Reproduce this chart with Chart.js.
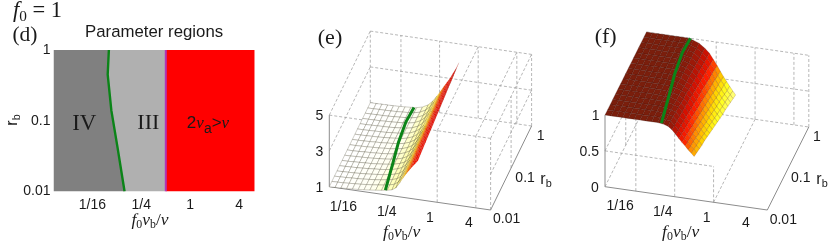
<!DOCTYPE html>
<html><head><meta charset="utf-8">
<script src="https://cdn.jsdelivr.net/npm/chart.js@4"></script>
<style>
html,body{margin:0;padding:0;background:#fff;width:830px;height:241px;overflow:hidden}
#page{position:absolute;left:0;top:0;width:830px;height:241px;filter:blur(.45px)}
canvas{position:absolute;top:0}
.t{position:absolute;transform:translate(-50%,-50%);white-space:nowrap;color:#1a1a1a;font-family:"Liberation Sans",sans-serif;font-size:14px;line-height:1}
.s{font-family:"Liberation Serif",serif}
sub{font-size:.68em;vertical-align:-.25em;line-height:0}
</style></head><body><div id="page">
<canvas id="cd" width="270" height="241" style="left:0;width:270px;height:241px"></canvas>
<canvas id="ce" width="280" height="241" style="left:270px;width:280px;height:241px"></canvas>
<canvas id="cf" width="280" height="241" style="left:550px;width:280px;height:241px"></canvas>
</div>
<script>
const xTickValues=[0.0625,0.25,1,4];
const xTickLabels=["1/16","1/4","1","4"];
const rbTickValues=[0.01,0.1,1];
const rbTickLabels=["0.01","0.1","1"];
const eZTicks=[1,3,5];
const fZTicks=[0,0.5,1];
const fZTickLabels=["0","0.5","1"];
const xMin=0.0208, xMaxD=6.2, xMax3D=6.8;
const greenRb=[0.01,0.043,0.14,0.45,1];
const greenX=[0.1556,0.127,0.107,0.0965,0.0998];
const eGreenZ=[1.26,1.2,1.15,1.09,1.08];
const fGreenZ=[1,1,1,1,1];
const magentaX=0.5;
const surfaceX=[0.0208,0.0257,0.0316,0.0389,0.0479,0.0589,0.0725,0.0893,0.11,0.1354,0.1667,0.1968,0.2263,0.26,0.2902,0.3249,0.3627,0.4043,0.4524,0.5];
const surfaceRb=[0.01,0.0133,0.0178,0.0237,0.0316,0.0422,0.0562,0.075,0.1,0.1334,0.1778,0.2371,0.3162,0.4217,0.5623,0.7499,1];
const eZ=[
[1,1.01,1.02,1.04,1.06,1.08,1.11,1.14,1.18,1.22,1.27,1.33,1.47,1.78,2.05,2.32,2.55,2.77,2.97,3.17],
[1,1.01,1.02,1.04,1.06,1.08,1.11,1.14,1.18,1.22,1.28,1.35,1.5,1.81,2.08,2.35,2.58,2.8,3.01,3.22],
[1,1.01,1.02,1.04,1.05,1.07,1.1,1.13,1.17,1.22,1.28,1.36,1.52,1.84,2.1,2.37,2.61,2.84,3.05,3.27],
[1,1.01,1.02,1.03,1.05,1.07,1.1,1.13,1.17,1.21,1.29,1.38,1.55,1.86,2.13,2.4,2.63,2.87,3.09,3.32],
[1,1.01,1.02,1.03,1.05,1.07,1.1,1.12,1.16,1.21,1.29,1.4,1.58,1.89,2.16,2.42,2.66,2.9,3.13,3.37],
[1,1,1.02,1.03,1.05,1.06,1.09,1.12,1.16,1.21,1.3,1.41,1.6,1.92,2.19,2.45,2.69,2.93,3.17,3.41],
[1,1,1.02,1.03,1.04,1.06,1.09,1.11,1.15,1.21,1.3,1.43,1.63,1.94,2.21,2.48,2.72,2.97,3.2,3.46],
[1,1,1.01,1.03,1.04,1.06,1.08,1.11,1.15,1.2,1.31,1.45,1.66,1.97,2.24,2.5,2.75,3.0,3.24,3.51],
[1,1,1.01,1.02,1.04,1.05,1.08,1.1,1.14,1.2,1.31,1.46,1.68,2.0,2.27,2.53,2.77,3.03,3.28,3.56],
[1,1,1.01,1.02,1.04,1.05,1.08,1.1,1.14,1.2,1.32,1.48,1.71,2.03,2.29,2.55,2.8,3.06,3.32,3.61],
[1,1,1.01,1.02,1.03,1.05,1.07,1.1,1.13,1.2,1.32,1.5,1.74,2.05,2.32,2.58,2.83,3.1,3.36,3.66],
[1,1,1.01,1.02,1.03,1.04,1.07,1.09,1.13,1.19,1.33,1.51,1.76,2.08,2.35,2.61,2.86,3.13,3.4,3.71],
[1,1,1.01,1.02,1.03,1.04,1.06,1.09,1.12,1.19,1.33,1.53,1.79,2.11,2.37,2.63,2.89,3.16,3.44,3.76],
[1,1,1.01,1.01,1.03,1.04,1.06,1.08,1.12,1.19,1.34,1.55,1.82,2.14,2.4,2.66,2.92,3.19,3.48,3.8],
[1,1,1.01,1.01,1.02,1.04,1.06,1.08,1.11,1.19,1.34,1.56,1.84,2.16,2.43,2.69,2.94,3.23,3.52,3.85],
[1,1,1.01,1.01,1.02,1.03,1.05,1.07,1.11,1.18,1.35,1.58,1.87,2.19,2.45,2.71,2.97,3.26,3.56,3.9],
[1,1,1.01,1.01,1.02,1.03,1.05,1.07,1.1,1.18,1.35,1.6,1.9,2.22,2.48,2.74,3.0,3.3,3.6,3.95]];
const fZ=[
[1,1,1,1,1,1,1,1,1,1,.99,.97,.93,.87,.82,.77,.73,.68,.64,.6],
[1,1,1,1,1,1,1,1,1,1,.98,.97,.92,.86,.81,.76,.71,.66,.62,.58],
[1,1,1,1,1,1,1,1,1,.99,.98,.96,.91,.85,.79,.74,.7,.65,.6,.56],
[1,1,1,1,1,1,1,1,1,.99,.97,.95,.9,.84,.78,.73,.68,.63,.59,.54],
[1,1,1,1,1,1,1,1,1,.99,.97,.95,.89,.82,.77,.71,.67,.61,.57,.53],
[1,1,1,1,1,1,1,1,.99,.99,.96,.93,.88,.81,.75,.7,.65,.6,.55,.51],
[1,1,1,1,1,1,1,1,.99,.98,.96,.92,.87,.8,.74,.68,.63,.58,.53,.49],
[1,1,1,1,1,1,1,1,.99,.98,.95,.92,.86,.79,.72,.67,.62,.56,.52,.47],
[1,1,1,1,1,1,1,1,.99,.98,.94,.9,.84,.77,.71,.65,.6,.55,.5,.45],
[1,1,1,1,1,1,1,1,.99,.97,.93,.89,.83,.76,.7,.64,.58,.53,.48,.43],
[1,1,1,1,1,1,1,1,.99,.97,.93,.88,.82,.75,.68,.62,.57,.51,.46,.41],
[1,1,1,1,1,1,1,1,.99,.97,.92,.87,.81,.74,.67,.61,.55,.49,.44,.39],
[1,1,1,1,1,1,1,1,.99,.96,.92,.86,.8,.72,.65,.59,.53,.48,.42,.38],
[1,1,1,1,1,1,1,1,.98,.96,.91,.86,.79,.71,.64,.57,.52,.46,.41,.36],
[1,1,1,1,1,1,1,1,.98,.96,.9,.85,.78,.7,.63,.56,.5,.44,.39,.34],
[1,1,1,1,1,1,1,1,.98,.95,.9,.84,.76,.69,.61,.55,.49,.42,.37,.32],
[1,1,1,1,1,1,1,1,.98,.95,.89,.83,.75,.67,.6,.53,.47,.41,.35,.3]];
const xA=xMin,xB=xMax3D;
const eSolid=[[xA,.01,1,xA,.01,5],[xA,.01,1,xB,.01,1],[xB,.01,1,xB,1,1]];
const eDashed=[[xA,.01,5,xA,1,5],[xA,1,5,xB,1,5],[xB,.01,5,xB,1,5],[xB,1,1,xB,1,5],[xB,.01,1,xB,.01,5],[xA,.01,5,xB,.01,5],
[xA,.01,3,xA,1,3],[xA,1,3,xB,1,3],[xA,1,1,xB,1,1],[xA,1,1,xA,1,5],[xB,.01,3,xB,1,3],[xB,.1,1,xB,.1,5],
[.0625,1,1,.0625,1,5],[.25,1,1,.25,1,5],[1,1,1,1,1,5],[4,1,1,4,1,5],[1,.01,1,1,.01,5],[4,.01,1,4,.01,5],[1,.01,5,1,1,5],[4,.01,5,4,1,5]];
const fSolid=[[xA,.01,0,xA,.01,1],[xA,.01,0,xB,.01,0],[xB,.01,0,xB,1,0]];
const fDashed=[[xA,.01,.5,1,.01,.5],[.0625,.01,0,.0625,.01,1],[.25,.01,0,.25,.01,1],[1,.01,0,1,.01,.5],
[xA,.01,.5,xA,1,.5],[xA,.1,0,xA,.1,1],[xA,.01,0,xA,1,0],[1,.01,0,1,1,0],
[xA,1,1,xB,1,1],[xA,1,.5,xB,1,.5],[xA,1,0,xB,1,0],[.25,1,0,.25,1,1],[1,1,0,1,1,1],[4,1,0,4,1,1],[xB,1,0,xB,1,1]];
const eColors=[[1,255,255,255],[1.15,255,255,240],[1.3,255,255,190],[1.9,255,240,110],[2.15,255,215,30],[2.35,255,150,0],[2.6,255,60,0],[2.9,250,15,0],[4,235,0,0],[5,150,10,0]];
const fColors=[[.3,255,255,140],[.45,255,255,30],[.55,255,215,0],[.65,255,140,0],[.75,255,30,0],[.85,214,16,0],[.93,160,24,8],[1,122,30,12]];
const eEdge=v=>v<1.9?"rgba(50,45,20,.6)":"rgba(110,40,0,.22)";
const fEdge=v=>v>.8?"rgba(45,10,4,.55)":"rgba(90,30,0,.45)";

function colorAt(stops,v){
  let i=0; while(i<stops.length-2&&v>stops[i+1][0])i++;
  const a=stops[i],b=stops[i+1],t=Math.max(0,Math.min(1,(v-a[0])/(b[0]-a[0])));
  return `rgb(${[1,2,3].map(k=>Math.round(a[k]+(b[k]-a[k])*t)).join(",")})`;
}
function projector(p){
  return (x,r,z)=>{
    const tx=Math.log(x/xMin)/Math.log(xMax3D/xMin), tr=(Math.log10(r)+2)/2;
    return {x:p.ox+tx*p.ux[0]+tr*p.ur[0], y:p.oy+tx*p.ux[1]+tr*p.ur[1]-(z-p.zMin)*p.zpx};
  };
}
const page=document.getElementById("page");
function put(html,x,y,cls,style){
  const d=document.createElement("div");d.className="t "+(cls||"");d.innerHTML=html;
  d.style.left=x+"px";d.style.top=y+"px";if(style)d.style.cssText+=";"+style;page.appendChild(d);
}
function build3D(id,p,Z,colors,solid,dashed,greenZ,edge){
  const P=projector(p),ds=[];let n=0;
  const add=o=>{ds.push(Object.assign({showLine:true,pointRadius:0,borderWidth:.7,fill:false,order:-(n++)},o));};
  dashed.forEach(s=>add({data:[P(s[0],s[1],s[2]),P(s[3],s[4],s[5])],borderColor:"#a4a4a4",borderWidth:.8,borderDash:[3,2]}));
  solid.forEach(s=>add({data:[P(s[0],s[1],s[2]),P(s[3],s[4],s[5])],borderColor:"#8c8c8c",borderWidth:1}));
  for(let j=surfaceRb.length-2;j>=0;j--){
    for(let i=0;i<surfaceX.length-1;i++){
      const v=(Z[j][i]+Z[j][i+1]+Z[j+1][i]+Z[j+1][i+1])/4;
      const q=[[i,j],[i+1,j],[i+1,j+1],[i,j+1],[i,j]].map(c=>P(surfaceX[c[0]],surfaceRb[c[1]],Z[c[1]][c[0]]));
      add({data:q,backgroundColor:colorAt(colors,v),borderColor:edge(v),borderWidth:.4,fill:"shape"});
    }
  }
  add({data:greenRb.map((r,k)=>P(greenX[k],r,greenZ[k])),borderColor:"#0b8418",borderWidth:3});
  new Chart(document.getElementById(id),{type:"scatter",data:{datasets:ds},options:{
    responsive:false,animation:false,events:[],
    layout:{padding:0},
    plugins:{legend:{display:false},tooltip:{enabled:false},title:{display:false}},
    scales:{x:{type:"linear",display:false,min:p.left,max:p.left+280},y:{type:"linear",display:false,reverse:true,min:0,max:241}}
  }});
  return P;
}
const pe={left:270,ox:329.3,oy:186.7,ux:[161.3,23.3],ur:[41,-84],zpx:17.9,zMin:1};
const pf={left:550,ox:605,oy:186.7,ux:[162.3,23.3],ur:[41.5,-83],zpx:71.67,zMin:0};
const Pe=build3D("ce",pe,eZ,eColors,eSolid,eDashed,eGreenZ,eEdge);
const Pf=build3D("cf",pf,fZ,fColors,fSolid,fDashed,fGreenZ,fEdge);

// panel (d)
const yBottom=rbTickValues[0],yTop=rbTickValues[2];
const poly=(pts,c)=>({data:pts.map(a=>({x:a[0],y:a[1]})),showLine:true,pointRadius:0,borderWidth:0,fill:"shape",backgroundColor:c});
const greenPts=greenRb.map((r,k)=>[greenX[k],r]);
new Chart(document.getElementById("cd"),{type:"scatter",data:{datasets:[
  {data:[{x:magentaX,y:yBottom},{x:magentaX,y:yTop}],showLine:true,pointRadius:0,borderColor:"#b035b8",borderWidth:2,order:1},
  {data:greenPts.map(a=>({x:a[0],y:a[1]})),showLine:true,pointRadius:0,borderColor:"#0b8418",borderWidth:2.4,order:2},
  Object.assign(poly([[xMin,yBottom],...greenPts,[xMin,yTop],[xMin,yBottom]],"#808080"),{order:3}),
  Object.assign(poly([...greenPts,[magentaX,yTop],[magentaX,yBottom],greenPts[0]],"#b0b0b0"),{order:4}),
  Object.assign(poly([[magentaX,yBottom],[magentaX,yTop],[xMaxD,yTop],[xMaxD,yBottom],[magentaX,yBottom]],"#ff0000"),{order:5})
]},options:{
  responsive:false,animation:false,events:[],
  layout:{padding:{left:0,right:15.3,top:0,bottom:0}},
  plugins:{legend:{display:false},tooltip:{enabled:false},
    title:{display:true,fullSize:false,text:"Parameter regions",color:"#1a1a1a",font:{family:"Liberation Sans",size:16.8,weight:"normal",lineHeight:1.2},padding:{top:22,bottom:7.8}}},
  scales:{
    x:{type:"logarithmic",min:xMin,max:xMaxD,afterBuildTicks:s=>{s.ticks=xTickValues.map(v=>({value:v}));},
       afterFit:s=>{s.height=49.5;},
       grid:{display:false,drawTicks:false},border:{display:false},
       ticks:{autoSkip:false,maxRotation:0,padding:5,color:"#1a1a1a",font:{family:"Liberation Sans",size:14},callback:v=>xTickLabels[xTickValues.indexOf(v)]}},
    y:{type:"logarithmic",min:yBottom,max:yTop,afterBuildTicks:s=>{s.ticks=rbTickValues.map(v=>({value:v}));},
       afterFit:s=>{s.width=53.5;},
       grid:{display:false,drawTicks:false},border:{display:false},
       ticks:{autoSkip:false,padding:3,color:"#1a1a1a",font:{family:"Liberation Sans",size:14},callback:v=>rbTickLabels[rbTickValues.indexOf(v)]}}
  }
}});

// text
const mathLabel='<i>f</i><sub>0</sub><i>ν</i><sub>b</sub>/<i>ν</i>';
put('<i>f</i><sub>0</sub> = 1',37.5,10,"s","font-size:22.5px");
put("(d)",25,35,"s","font-size:21.5px");
put("(e)",330,36.5,"s","font-size:22px");
put("(f)",605.7,35.5,"s","font-size:22px");
put(mathLabel,150,220,"s","font-size:17.5px");
put(mathLabel,401.7,231.5,"s","font-size:17.5px");
put(mathLabel,680.7,231.5,"s","font-size:17.5px");
put('r<sub>b</sub>',12,120,"","font-size:16px;transform:translate(-50%,-50%) rotate(-90deg)");
put("IV",84.3,121.5,"s","font-size:23px");
put("III",148.3,121.5,"s","font-size:22px");
put('2<span class="s"><i>ν</i></span><sub style="font-size:.82em;vertical-align:-.4em">a</sub>&gt;<span class="s"><i>ν</i></span>',208,122,"","font-size:17px");
const eXOff=[[-16.6,14.6],[-11.8,14.6],[-7.2,14.4],[-7,14.4]];
xTickValues.forEach((v,i)=>{const a=Pe(v,.01,1);put(xTickLabels[i],a.x+eXOff[i][0],a.y+eXOff[i][1]);});
const fXOff=[[-15.7,13.6],[-11.9,14],[-6.9,14.4],[-6.5,13.8]];
xTickValues.forEach((v,i)=>{const a=Pf(v,.01,0);put(xTickLabels[i],a.x+fXOff[i][0],a.y+fXOff[i][1]);});
const eROff=[[16,8.3],[14,8.7],[9,9]];
rbTickValues.forEach((v,i)=>{const a=Pe(xMax3D,v,1);put(rbTickLabels[i],a.x+eROff[i][0],a.y+eROff[i][1]);});
const fROff=[[16,9],[12.7,8.8],[8,8.7]];
rbTickValues.forEach((v,i)=>{const a=Pf(xMax3D,v,0);put(rbTickLabels[i],a.x+fROff[i][0],a.y+fROff[i][1]);});
eZTicks.forEach(v=>{const a=Pe(xMin,.01,v);put(String(v),a.x-10,a.y);});
const fZOff=[-10,-15.7,-9.3];
fZTicks.forEach((v,i)=>{const a=Pf(xMin,.01,v);put(fZTickLabels[i],a.x+fZOff[i],a.y);});
put('r<sub>b</sub>',546,179,"","font-size:16px");
put('r<sub>b</sub>',822,179,"","font-size:16px");
</script></body></html>
